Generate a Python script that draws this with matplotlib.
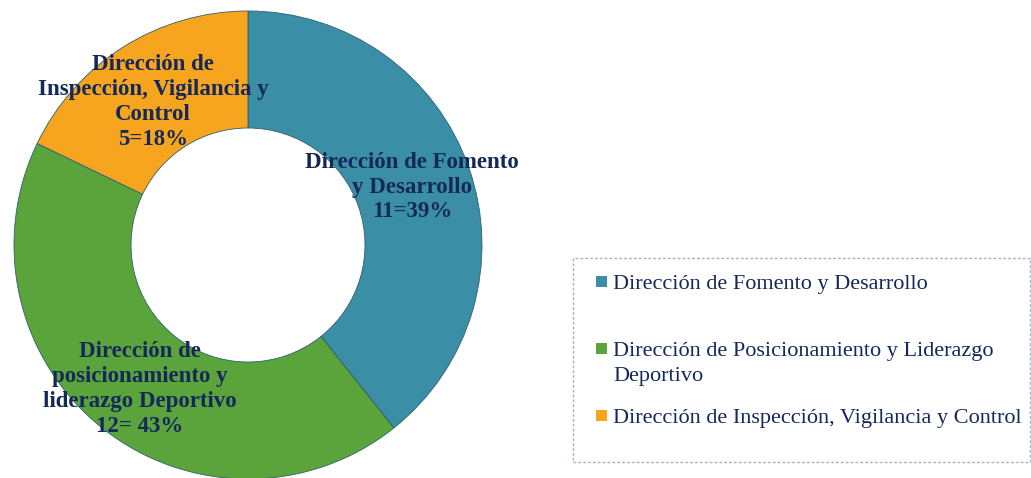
import matplotlib.pyplot as plt
from matplotlib.patches import Rectangle

# Datos del grafico
categorias = ["Dirección de Fomento y Desarrollo",
              "Dirección de Posicionamiento y Liderazgo\nDeportivo",
              "Dirección de Inspección, Vigilancia y Control"]
valores = [11, 12, 5]
etiquetas = ["Dirección de Fomento\ny Desarrollo\n11=39%",
             "Dirección de\nposicionamiento y\nliderazgo Deportivo\n12= 43%",
             "Dirección de\nInspección, Vigilancia y\nControl\n5=18%"]
colores = ["#3A8EA6", "#5BA33B", "#F7A51F"]

W, H = 1031, 478
fig = plt.figure(figsize=(W / 100, H / 100), dpi=100)
fig.patch.set_facecolor("white")

# pie axes: center (248, 245) px, radius 234 px
cx, cy, r = 248, 245, 234
ax = fig.add_axes([(cx - r) / W, (H - cy - r) / H, 2 * r / W, 2 * r / H])
wedges, _ = ax.pie(valores, colors=colores, startangle=90, counterclock=False,
                   radius=1.0, wedgeprops=dict(width=0.5, edgecolor="#2f5f6f", linewidth=0.6))
ax.set_xlim(-1, 1)
ax.set_ylim(-1, 1)
ax.set_aspect("equal")
ax.axis("off")

texto = "#14285A"
fuente = "Liberation Serif"
# posiciones de etiquetas en pixeles
pos = [(412, 187), (140, 389), (153, 102)]
for (px, py), et in zip(pos, etiquetas):
    fig.text(px / W, 1 - py / H, et, ha="center", va="center", fontsize=16.5,
             fontweight="bold", color=texto, family=fuente, linespacing=1.24)

# leyenda manual
fig.patches.append(Rectangle((573 / W, 1 - 462 / H), (W - 574) / W, (462 - 258) / H,
                             transform=fig.transFigure, fill=False,
                             edgecolor="#9FB4C8", linestyle=(0, (2, 1.5)), linewidth=1))
ley_y = [282, 349, 416]
for c, cat, yy in zip(colores, categorias, ley_y):
    fig.patches.append(Rectangle((596 / W, 1 - (yy + 5) / H), 11 / W, 11 / H,
                                 transform=fig.transFigure, facecolor=c, edgecolor="none"))
    fig.text(613 / W, 1 - (yy - 7) / H, cat, ha="left", va="top", fontsize=16,
             color=texto, family=fuente, linespacing=1.42)

fig.savefig("out.png", dpi=100)
